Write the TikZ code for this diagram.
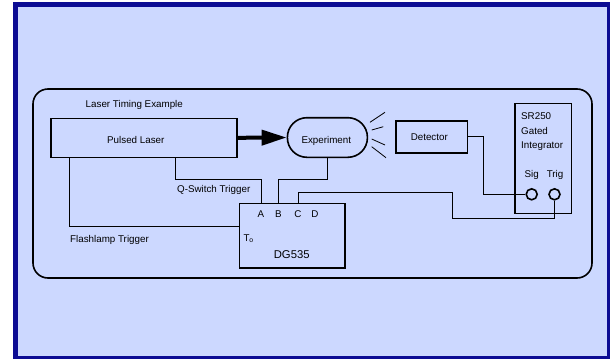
\documentclass[tikz,border=0pt]{standalone}
\usepackage{fontspec}
\setmainfont{Liberation Sans}
\usetikzlibrary{arrows.meta}

\definecolor{framebl}{RGB}{12,12,148}
\definecolor{panelbl}{RGB}{204,216,255}

\tikzset{
  unit/.style={draw, line width=1.6pt, inner sep=0pt},
  port/.style={draw, circle, line width=1.6pt, minimum size=11pt, inner sep=0pt},
  wire/.style={line width=0.8pt},
  lbl/.style={inner sep=0pt, text height=1.5ex, text depth=.25ex, font=\fontsize{9.8}{11}\selectfont},
}

\begin{document}
\begin{tikzpicture}[x=1pt, y=-1pt]
\useasboundingbox (0,0) rectangle (610,359);

% Background frame and panel
\fill[framebl] (13,2) rectangle (610,359);
\fill[panelbl] (18,7) rectangle (607,356);
\draw[line width=1.6pt, rounded corners=15pt] (33,89) rectangle (592,278);
\node[lbl] (title) at (134.3,104.3) {Laser Timing Example};

% The units
\node[unit, minimum width=186pt, minimum height=39pt] (laser) at (143.7,137.8) {};
\node[lbl] (laserlbl) at (135.8,140) {Pulsed Laser};
\node[unit, rounded corners=19.5pt, minimum width=80pt, minimum height=39.6pt] (expt) at (327.4,137.5) {};
\node[lbl] (exptlbl) at (326.3,140) {Experiment};
\node[unit, minimum width=71.3pt, minimum height=32pt] (det) at (431.7,136.7) {};
\node[lbl] (detlbl) at (429.3,137.3) {Detector};
\node[unit, minimum width=56.5pt, minimum height=110pt] (sr) at (543.2,158.3) {};
\node[lbl, anchor=west] (srname) at (521,115.7) {SR250};
\node[lbl, anchor=west] (srgated) at (521,130.7) {Gated};
\node[lbl, anchor=west] (srint) at (521,145) {Integrator};
\node[lbl] (siglbl) at (531.7,174.3) {Sig};
\node[lbl] (triglbl) at (555,174.3) {Trig};
\node[port] (sig) at (531.7,194.3) {};
\node[port] (trig) at (554.5,194.3) {};
\node[unit, minimum width=105.7pt, minimum height=64.4pt] (dg) at (292.2,235.5) {};
\node[lbl] (pa) at (261,214.3) {A};
\node[lbl] (pb) at (278.3,214.3) {B};
\node[lbl] (pc) at (298,214.3) {C};
\node[lbl] (pd) at (315,214.3) {D};
\node[lbl, anchor=base west] (pto) at (243.3,241) {T\textsubscript{o}};
\node[lbl, font=\fontsize{11.3}{13}\selectfont] (dgname) at (291.7,255.5) {DG535};

% Beam and scattered light
\draw[line width=4pt, -{Triangle[length=25pt,width=15pt]}] (laser.east) -- (expt.west);
\foreach \xa/\ya/\xb/\yb in {370/122.3/385/112.3, 371.7/130/383.3/126.7,
                             371.7/139/385/145, 371.7/146.7/386/157.7}
  \draw[wire] (\xa,\ya) -- (\xb,\yb);

% Trigger and signal wiring
\draw[wire] ([xshift=32pt]laser.south) -- ++(0,21) -| (pa |- dg.north);
\node[lbl] (qslbl) at (213.7,189.3) {Q-Switch Trigger};
\draw[wire] ([xshift=19.3pt]laser.south west) |- ([yshift=8.8pt]dg.west);
\node[lbl] (fllbl) at (109.5,239) {Flashlamp Trigger};
\draw[wire] (expt.south) -- ++(0,21) -| (pb |- dg.north);
\draw[wire] (det.east) -- ++(15.4,0) |- (sig.west);
\draw[wire] (trig.south) -- ++(0,17.9) -- ++(-101.8,0) -- ++(0,-26) -| (pc |- dg.north);
\end{tikzpicture}
\end{document}
